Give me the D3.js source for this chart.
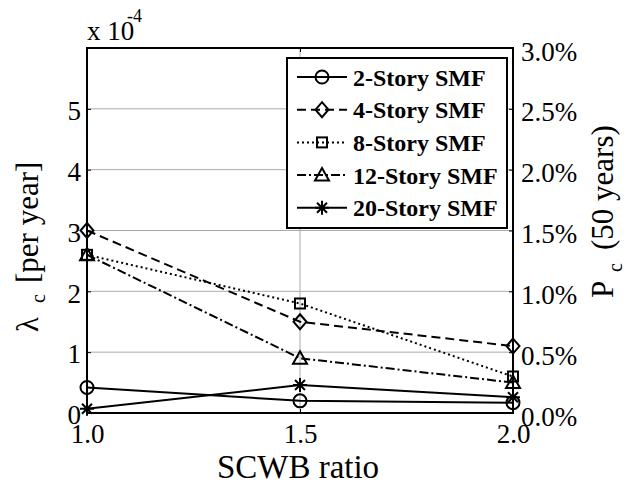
<!DOCTYPE html>
<html>
<head>
<meta charset="utf-8">
<script src="https://cdn.jsdelivr.net/npm/d3@7"></script>
</head>
<body style="margin:0;font-family:'Times New Roman'">
<svg id="fig" width="630" height="484" style="font-family:'Times New Roman'"></svg>
<script>
// ---- data (lambda_c in units of 1e-4 per year) ----
const scwbRatios = [1.0, 1.5, 2.0];
const xTickLabels = ["1.0", "1.5", "2.0"];
const yTicksLeft = [0, 1, 2, 3, 4, 5];
const yTicksRightPct = ["0.0%", "0.5%", "1.0%", "1.5%", "2.0%", "2.5%", "3.0%"];
const seriesNames = ["2-Story SMF", "4-Story SMF", "8-Story SMF", "12-Story SMF", "20-Story SMF"];
const smf2  = [0.42, 0.20, 0.17];
const smf4  = [3.00, 1.50, 1.10];
const smf8  = [2.60, 1.80, 0.60];
const smf12 = [2.60, 0.90, 0.50];
const smf20 = [0.07, 0.46, 0.26];

const seriesValues = [smf2, smf4, smf8, smf12, smf20];
const seriesMarkers = ["circle", "diamond", "square", "triangle", "star"];
const seriesDash = ["none", "9,5", "2,3", "9,3,2,3", "none"];

const FONT = "'Times New Roman'";
const svg = d3.select("#fig");
const L = 87, R = 513, T = 48, B = 413;

const x = d3.scaleLinear().domain([1.0, 2.0]).range([L, R]);
const y = d3.scaleLinear().domain([0, 6]).range([B, T]);
const yR = d3.scaleLinear().domain([0, 3.0]).range([B, T]);

function txt(sel, size, weight) {
  return sel.style("font-family", FONT).style("font-size", size + "px")
    .attr("font-weight", weight || null).attr("fill", "#000");
}

// grid
const grid = svg.append("g");
grid.selectAll("line.h").data([1, 2, 3, 4, 5]).enter().append("line")
  .attr("x1", L).attr("x2", R).attr("y1", d => y(d)).attr("y2", d => y(d))
  .attr("stroke", "#aaa").attr("stroke-width", 1);
grid.selectAll("line.v").data([1.5]).enter().append("line")
  .attr("x1", d => x(d)).attr("x2", d => x(d)).attr("y1", T).attr("y2", B)
  .attr("stroke", "#aaa").attr("stroke-width", 1);

// axes
const tickLen = 4;
const leftAxis = d3.axisLeft(y).tickValues(yTicksLeft.concat([6])).tickSize(-tickLen)
  .tickFormat(d => d === 6 ? "" : String(d)).tickPadding(6);
const gl = svg.append("g").attr("transform", `translate(${L},0)`).call(leftAxis);
const rightAxis = d3.axisRight(yR).tickValues([0, 0.5, 1, 1.5, 2, 2.5, 3]).tickSize(-tickLen)
  .tickFormat((d, i) => yTicksRightPct[i]).tickPadding(8);
const gr = svg.append("g").attr("transform", `translate(${R},0)`).call(rightAxis);
const bottomAxis = d3.axisBottom(x).tickValues(scwbRatios).tickSize(-tickLen)
  .tickFormat((d, i) => xTickLabels[i]).tickPadding(10);
const gb = svg.append("g").attr("transform", `translate(0,${B})`).call(bottomAxis);
const topAxis = d3.axisTop(x).tickValues(scwbRatios).tickSize(-tickLen).tickFormat("");
const gt = svg.append("g").attr("transform", `translate(0,${T})`).call(topAxis);

[gl, gr, gb, gt].forEach(g => {
  g.attr("font-family", null).attr("font-size", null);
  g.select(".domain").remove();
  g.selectAll(".tick line").attr("stroke", "#000").attr("stroke-width", 1);
  txt(g.selectAll("text"), 27);
});
gl.selectAll("text").attr("dy", "0.4em");
gr.selectAll("text").attr("dy", "0.45em");
gb.selectAll("text").attr("dy", "0.75em");

// box
svg.append("rect").attr("x", L).attr("y", T).attr("width", R - L).attr("height", B - T)
  .attr("fill", "none").attr("stroke", "#000").attr("stroke-width", 2);

// exponent label
txt(svg.append("text").attr("x", L).attr("y", 40), 27).text("x 10");
txt(svg.append("text").attr("x", 127).attr("y", 22), 18).text("-4");

// marker drawing
function drawMarker(g, type, cx, cy) {
  if (type === "circle") {
    g.append("circle").attr("cx", cx).attr("cy", cy).attr("r", 6.5)
      .attr("fill", "none").attr("stroke", "#000").attr("stroke-width", 2);
  } else if (type === "diamond") {
    g.append("path").attr("d", `M${cx},${cy-7.5}L${cx+6.5},${cy}L${cx},${cy+7.5}L${cx-6.5},${cy}Z`)
      .attr("fill", "none").attr("stroke", "#000").attr("stroke-width", 2);
  } else if (type === "square") {
    g.append("rect").attr("x", cx - 5).attr("y", cy - 5).attr("width", 10).attr("height", 10)
      .attr("fill", "none").attr("stroke", "#000").attr("stroke-width", 2);
  } else if (type === "triangle") {
    g.append("path").attr("d", `M${cx},${cy-7}L${cx+7},${cy+5.5}L${cx-7},${cy+5.5}Z`)
      .attr("fill", "none").attr("stroke", "#000").attr("stroke-width", 2);
  } else if (type === "star") {
    const r = 7, d = 5;
    g.append("path").attr("d",
      `M${cx},${cy-r}L${cx},${cy+r}M${cx-r},${cy}L${cx+r},${cy}` +
      `M${cx-d},${cy-d}L${cx+d},${cy+d}M${cx-d},${cy+d}L${cx+d},${cy-d}`)
      .attr("fill", "none").attr("stroke", "#000").attr("stroke-width", 2);
  }
}

// series
const line = d3.line().x(d => x(d[0])).y(d => y(d[1]));
const plotG = svg.append("g");
seriesValues.forEach((vals, i) => {
  const pts = scwbRatios.map((xv, j) => [xv, vals[j]]);
  plotG.append("path").datum(pts).attr("d", line)
    .attr("fill", "none").attr("stroke", "#000").attr("stroke-width", 2)
    .attr("stroke-dasharray", seriesDash[i]);
  pts.forEach(p => drawMarker(plotG, seriesMarkers[i], x(p[0]), y(p[1])));
});

// legend
const lg = svg.append("g");
lg.append("rect").attr("x", 287).attr("y", 58).attr("width", 220).attr("height", 170)
  .attr("fill", "#fff").attr("stroke", "#000").attr("stroke-width", 2);
seriesNames.forEach((name, i) => {
  const cy = 77 + i * 32.7;
  lg.append("line").attr("x1", 297).attr("x2", 347).attr("y1", cy).attr("y2", cy)
    .attr("stroke", "#000").attr("stroke-width", 2).attr("stroke-dasharray", seriesDash[i]);
  drawMarker(lg, seriesMarkers[i], 322, cy);
  txt(lg.append("text").attr("x", 353).attr("y", cy).attr("dy", "0.36em"), 24, "bold").text(name);
});

// axis titles
const yl = txt(svg.append("text").attr("transform", "translate(38,0) rotate(-90)"), 31);
yl.append("tspan").attr("x", -332).attr("y", 0).text("λ");
yl.append("tspan").attr("x", -303).attr("y", 7).style("font-size", "20px").text("c");
yl.append("tspan").attr("x", -283).attr("y", 0).text("[per year]");

const yr = txt(svg.append("text").attr("transform", "translate(613,0) rotate(-90)"), 31);
yr.append("tspan").attr("x", -298).attr("y", 0).text("P");
yr.append("tspan").attr("x", -272).attr("y", 9).style("font-size", "20px").text("c");
yr.append("tspan").attr("x", -250).attr("y", 0).text("(50 years)");

txt(svg.append("text").attr("x", 298).attr("y", 478).attr("text-anchor", "middle"), 33).text("SCWB ratio");
</script>
</body>
</html>
